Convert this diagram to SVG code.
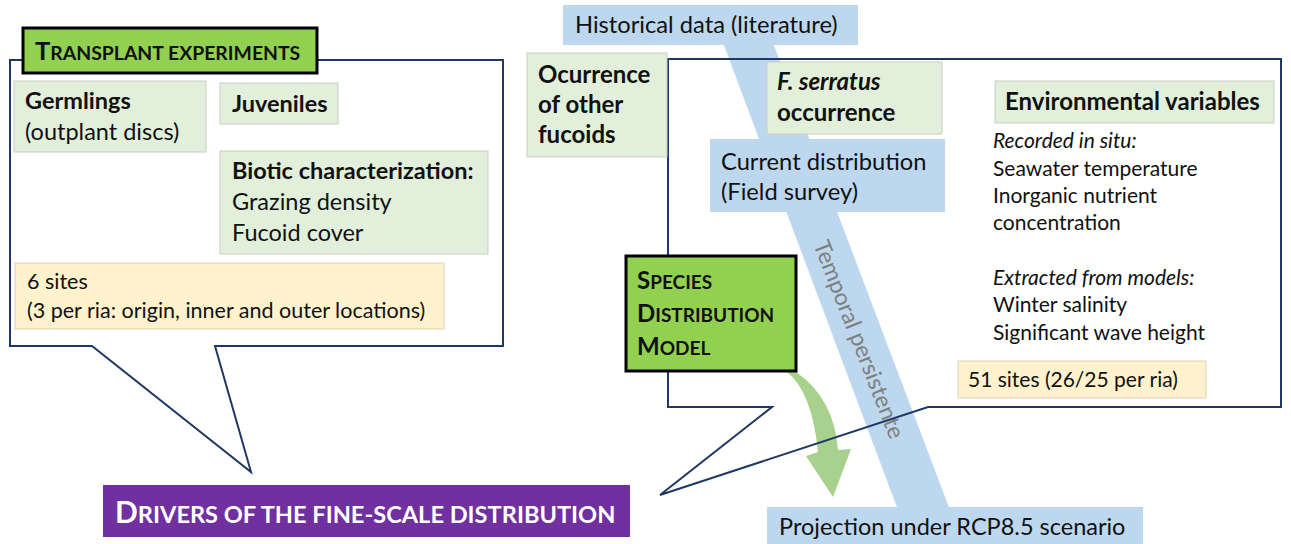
<svg xmlns="http://www.w3.org/2000/svg" width="1291" height="544" viewBox="0 0 1291 544">
  <style>
    text { font-family: Lato, "Open Sans", "Liberation Sans", sans-serif; fill: #111; }
    .t { font-size: 21px; }
    .tl { font-size: 23.5px; }
    .bl { font-size: 23.5px; font-weight: bold; }
    .bx { font-size: 24px; font-weight: bold; }
    .tb { font-size: 23.7px; }
    .green { fill: #E2EFDA; stroke: #C8CEC4; stroke-width: 1; }
    .yellow { fill: #FFF2CC; stroke: #DDD3B5; stroke-width: 1; }
    .blue { fill: #BDD7EE; }
    .callout { fill: none; stroke: #203864; stroke-width: 2; stroke-linejoin: miter; }
    .title { fill: #92D050; stroke: #000; stroke-width: 3; }
    .sc { font-weight: bold; }
  </style>

  <!-- temporal band from historical data to projection -->
  <g id="temporal-band">
    <polygon class="blue" points="722,40 772,40 950,510 898,510"/>
    <text transform="translate(860,339) rotate(68.5)" text-anchor="middle" dominant-baseline="central" style="font-size:23px; fill:#7F7F7F">Temporal persistente</text>
  </g>

  <!-- curved arrow from the model down to the projection -->
  <g id="model-arrow">
    <path d="M 787 372 Q 812 392 818 452 L 806 456 L 833 497 L 851 449 L 838 450 Q 834 398 796 372 Z" fill="#A9D18E"/>
  </g>

  <!-- callout outlines -->
  <g id="connectors">
    <path class="callout" d="M 10 60 L 503 60 L 503 346 L 215 346 L 251 472 L 92 346 L 10 346 Z"/>
    <path class="callout" d="M 668 59 L 1281 59 L 1281 407 L 928 407 L 660 495 L 772 407 L 668 407 Z"/>
  </g>

  <!-- left panel -->
  <g id="transplant-title">
    <rect class="title" x="23" y="28" width="294" height="45"/>
    <text x="35" y="60" class="sc"><tspan style="font-size:25.5px">T</tspan><tspan style="font-size:19.4px">RANSPLANT EXPERIMENTS</tspan></text>
  </g>
  <g id="germlings">
    <rect class="green" x="14" y="81" width="192" height="71"/>
    <text x="25" y="109" class="bl">Germlings</text>
    <text x="25" y="140" class="tl">(outplant discs)</text>
  </g>
  <g id="juveniles">
    <rect class="green" x="220" y="83" width="118" height="41"/>
    <text x="232" y="112" class="bl">Juveniles</text>
  </g>
  <g id="biotic">
    <rect class="green" x="220" y="151" width="268" height="103"/>
    <text x="232" y="179" class="bl">Biotic characterization:</text>
    <text x="232" y="210" class="tl">Grazing density</text>
    <text x="232" y="241" class="tl">Fucoid cover</text>
  </g>
  <g id="sites-6">
    <rect class="yellow" x="15" y="263" width="429" height="66"/>
    <text x="27" y="289" class="t" style="font-size:21.5px">6 sites</text>
    <text x="27" y="318" class="t" style="font-size:21.5px">(3 per ria: origin, inner and outer locations)</text>
  </g>

  <!-- right panel -->
  <g id="historical">
    <rect class="blue" x="563" y="5" width="295" height="40"/>
    <text x="575" y="33" class="tb">Historical data (literature)</text>
  </g>
  <g id="other-fucoids">
    <rect class="green" x="527" y="53" width="140" height="104"/>
    <text x="538" y="83" class="bx">Ocurrence</text>
    <text x="538" y="113" class="bx">of other</text>
    <text x="538" y="143" class="bx">fucoids</text>
  </g>
  <g id="serratus">
    <rect class="green" x="767" y="62" width="175" height="72"/>
    <text x="777" y="90" class="bx" font-style="italic">F. serratus</text>
    <text x="777" y="121" class="bx">occurrence</text>
  </g>
  <g id="current">
    <rect class="blue" x="710" y="139" width="235" height="73"/>
    <text x="721" y="170" class="tb">Current distribution</text>
    <text x="721" y="200" class="tb">(Field survey)</text>
  </g>
  <g id="environment">
    <rect class="green" x="995" y="81" width="279" height="42"/>
    <text x="1005" y="110" class="bx">Environmental variables</text>
    <text x="993" y="148" class="t" font-style="italic">Recorded in situ:</text>
    <text x="993" y="176" class="t">Seawater temperature</text>
    <text x="993" y="203" class="t">Inorganic nutrient</text>
    <text x="993" y="230" class="t">concentration</text>
    <text x="993" y="285" class="t" font-style="italic">Extracted from models:</text>
    <text x="993" y="312" class="t">Winter salinity</text>
    <text x="993" y="340" class="t">Significant wave height</text>
  </g>
  <g id="sites-51">
    <rect class="yellow" x="958" y="361" width="248" height="37"/>
    <text x="968" y="387" class="t">51 sites (26/25 per ria)</text>
  </g>
  <g id="sdm">
    <rect class="title" x="626" y="256" width="170" height="115"/>
    <text x="637" y="289" class="sc"><tspan style="font-size:24px">S</tspan><tspan style="font-size:19px">PECIES</tspan></text>
    <text x="637" y="322" class="sc"><tspan style="font-size:24px">D</tspan><tspan style="font-size:19px">ISTRIBUTION</tspan></text>
    <text x="637" y="355" class="sc"><tspan style="font-size:24px">M</tspan><tspan style="font-size:19px">ODEL</tspan></text>
  </g>
  <g id="projection">
    <rect class="blue" x="767" y="507" width="376" height="37"/>
    <text x="779" y="535" class="tb" style="font-size:23.5px">Projection under RCP8.5 scenario</text>
  </g>

  <!-- outcome -->
  <g id="drivers">
    <rect x="103" y="485" width="527" height="52" fill="#7030A0"/>
    <text x="115" y="523" class="sc" style="fill:#fff"><tspan style="font-size:30px">D</tspan><tspan style="font-size:23.6px">RIVERS OF THE FINE-SCALE DISTRIBUTION</tspan></text>
  </g>
</svg>
